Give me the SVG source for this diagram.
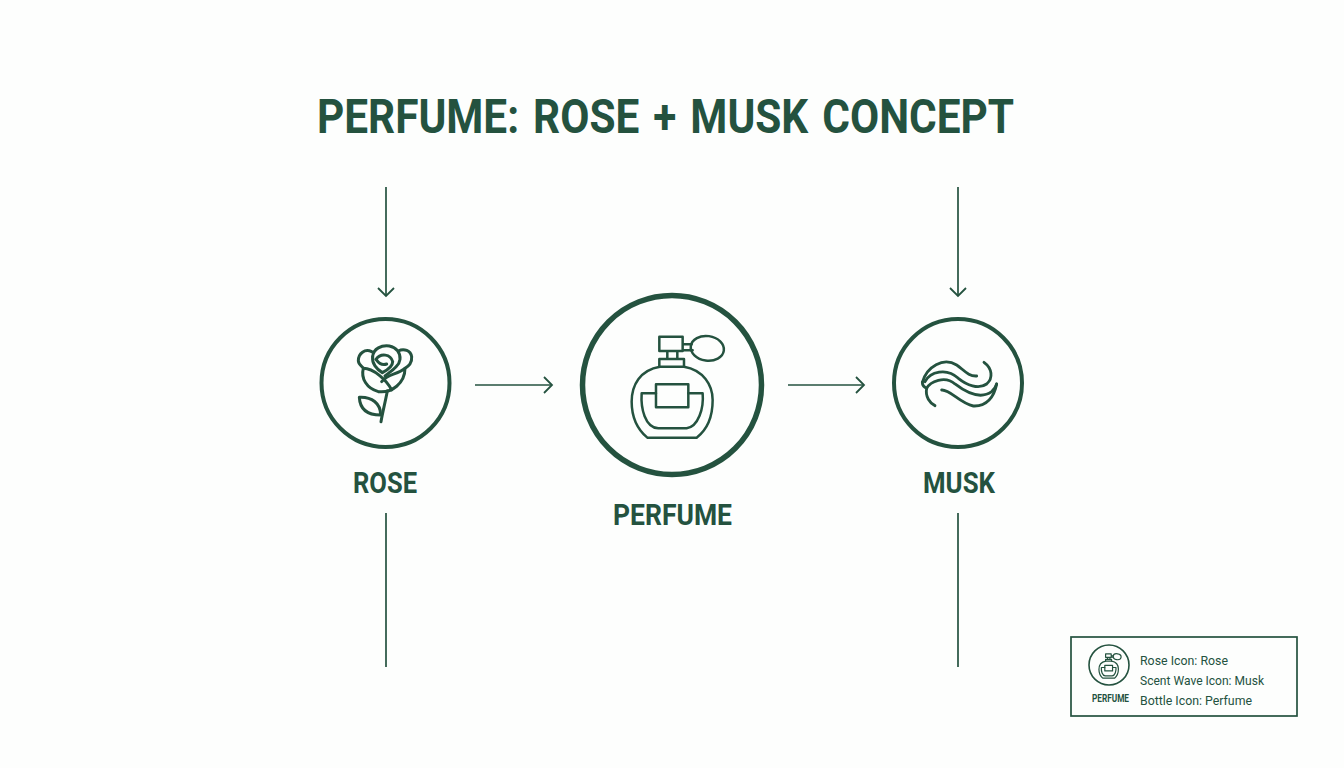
<svg xmlns="http://www.w3.org/2000/svg" width="1344" height="768" viewBox="0 0 1344 768">
<style>
text{font-family:Roboto,"Liberation Sans",Arial,sans-serif;fill:#24523f}
.b{font-weight:700}
.ring{fill:none;stroke:#24523f}
.ic{fill:none;stroke:#24523f;stroke-linecap:round;stroke-linejoin:round}
.c{fill:none;stroke:#24523f;stroke-width:1.7}
</style>
<defs>
<marker id="ah" markerUnits="userSpaceOnUse" markerWidth="20" markerHeight="20" refX="16" refY="10" orient="auto" viewBox="0 0 20 20"><path d="M8,2 L16,10 L8,18" fill="none" stroke="#24523f" stroke-width="1.8"/></marker>
<g id="bottle">
<path d="M268,155H338V198H268Z M292,198V222 M322,198V222 M268,245V222H342V245 M338,178L365,178 M338,196L368,196"/>
<ellipse cx="412" cy="190" rx="50" ry="37" transform="rotate(8 412 190)"/>
<path d="M270,245C210,255 185,300 185,350C185,400 205,435 232,458H380C410,435 428,395 428,345C428,300 400,255 342,245Z"/>
<path d="M258,325H215C212,370 225,428 265,430H350C385,425 402,370 398,325H355"/>
<path d="M258,298H355V367H258Z"/>
</g>
</defs>
<rect width="1344" height="768" fill="#fdfefd"/>
<text id="title" class="b" x="317" y="133" font-size="48.5" word-spacing="4" textLength="697" lengthAdjust="spacingAndGlyphs">PERFUME: ROSE + MUSK CONCEPT</text>
<g id="connectors" class="c">
<path d="M386,187V296" marker-end="url(#ah)"/>
<path d="M958,187V296" marker-end="url(#ah)"/>
<path d="M475,385H552" marker-end="url(#ah)"/>
<path d="M788,385H864" marker-end="url(#ah)"/>
<path d="M386,513V667"/>
<path d="M958,513V667"/>
</g>
<g id="rose">
<circle class="ring" cx="385.5" cy="383" r="64" stroke-width="4"/>
<g class="ic" stroke-width="9" transform="translate(350,340) scale(.3333)">
<path d="M65,35C45,25 25,40 25,62C25,72 35,78 40,85C32,115 50,145 85,155C125,160 165,130 165,85C175,78 187,70 185,50C182,32 162,24 145,33"/>
<path d="M68,50C70,25 95,15 118,18C140,22 152,40 150,58C148,78 125,92 105,108"/>
<path d="M68,50C65,70 80,88 97,98C112,90 128,78 128,65C122,42 92,38 78,58C88,72 100,76 110,72"/>
<path d="M40,85C70,85 110,120 125,150"/>
<path d="M165,85C140,105 115,100 95,125"/>
<path d="M112,153C105,190 98,215 93,245"/>
<path d="M28,172C65,170 92,190 92,225C55,225 30,210 28,172Z"/>
</g>
<text class="b" x="353" y="493" font-size="29" textLength="64" lengthAdjust="spacingAndGlyphs">ROSE</text>
</g>
<g id="perfume">
<circle class="ring" cx="672" cy="385" r="89.5" stroke-width="5.5"/>
<use href="#bottle" class="ic" stroke-width="7.5" transform="translate(570,285) scale(.3333)"/>
<text class="b" x="613" y="525" font-size="29" textLength="119" lengthAdjust="spacingAndGlyphs">PERFUME</text>
</g>
<g id="musk">
<circle class="ring" cx="958" cy="383" r="64" stroke-width="4"/>
<g class="ic" stroke-width="8.5" transform="translate(885,310) scale(.3333)">
<path d="M112,217C125,170 175,140 215,165C235,178 250,200 275,198"/>
<path d="M120,215C135,185 185,172 220,205C245,225 280,240 305,222C325,205 322,175 297,157"/>
<path d="M125,235C135,215 180,195 210,222C240,245 285,270 320,245C328,238 332,232 335,222"/>
<path d="M170,240C195,238 225,280 265,288C305,290 328,260 335,222"/>
<path d="M112,217C112,228 118,232 125,235C120,260 135,280 150,287"/>
</g>
<text class="b" x="923" y="493" font-size="29" textLength="72" lengthAdjust="spacingAndGlyphs">MUSK</text>
</g>
<g id="legend">
<rect x="1071" y="637" width="226" height="79" fill="none" stroke="#24523f" stroke-width="1.7"/>
<circle class="ring" cx="1109" cy="665" r="20" stroke-width="1.6"/>
<use href="#bottle" class="ic" stroke-width="15" transform="translate(1110,666) scale(.08) translate(-323,-306)"/>
<text class="b" x="1092" y="702" font-size="10" textLength="37" lengthAdjust="spacingAndGlyphs">PERFUME</text>
<text x="1140" y="665" font-size="13.5" textLength="88" lengthAdjust="spacingAndGlyphs">Rose Icon: Rose</text>
<text x="1140" y="685" font-size="13.5" textLength="124" lengthAdjust="spacingAndGlyphs">Scent Wave Icon: Musk</text>
<text x="1140" y="705" font-size="13.5" textLength="112" lengthAdjust="spacingAndGlyphs">Bottle Icon: Perfume</text>
</g>
</svg>
